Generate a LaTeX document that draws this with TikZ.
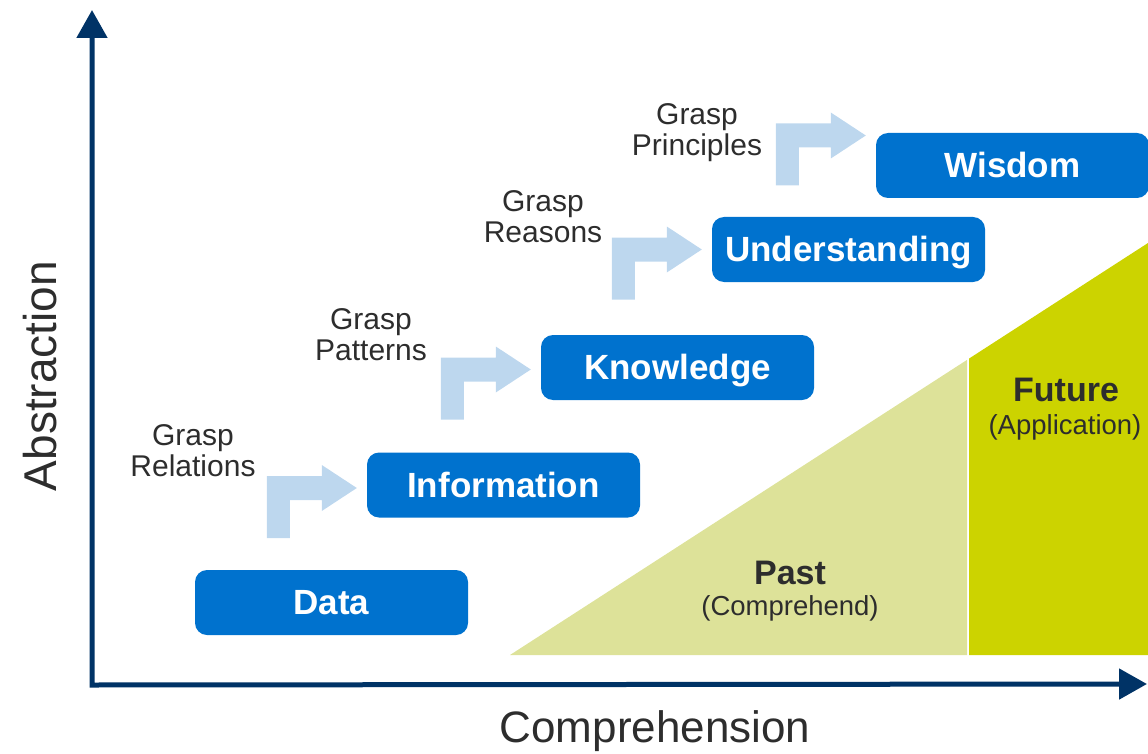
\documentclass[tikz,border=0pt]{standalone}
\usepackage{fontspec}
\setmainfont{Liberation Sans}
\usetikzlibrary{arrows.meta,calc}
\definecolor{boxblue}{RGB}{0,114,206}
\definecolor{paleblue}{RGB}{189,215,238}
\definecolor{pastgreen}{RGB}{221,226,153}
\definecolor{futgreen}{RGB}{204,211,0}
\definecolor{axisnavy}{RGB}{0,51,102}
\definecolor{ink}{RGB}{45,45,45}
\begin{document}
\begin{tikzpicture}[x=1pt, y=-1pt,
  level/.style={rectangle, rounded corners=12pt, fill=boxblue, text=white, inner sep=0pt,
    minimum width=273pt, minimum height=65pt, text height=24pt, text depth=0pt,
    font=\fontsize{35}{40}\selectfont\bfseries},
  grasp/.style={align=center, text=ink, font=\fontsize{30}{31}\selectfont},
  era/.style={text=ink, font=\fontsize{34}{38}\selectfont\bfseries},
  eranote/.style={text=ink, font=\fontsize{27.5}{30}\selectfont},
  bendarrow/.style={fill=paleblue},
  axis/.style={axisnavy, line width=5pt, line join=miter,
    {Triangle[width=30pt,length=28pt]}-{Triangle[width=30pt,length=28pt]}}]
\useasboundingbox (0,0) rectangle (1148,754);
\fill[pastgreen] (510,655) -- (967,655) -- (967,359.9) -- cycle;
\fill[futgreen] (969,655) -- (969,358.6) -- (1148,243) -- (1148,655) -- cycle;
\node[era] (past) at (790,573) {Past};
\node[eranote] (pastnote) at (790,608) {(Comprehend)};
\node[era] (future) at (1066,390) {Future};
\node[eranote] (futurenote) at (1065,427) {(Application)};
\node[level] (d0) at (331.5,602.5) {Data};
\node[level] (d1) at (503.5,485) {Information};
\node[level] (d2) at (677.5,367.5) {Knowledge};
\node[level] (d3) at (848.5,249.5) {Understanding};
\node[level] (d4) at (1012.5,165.5) {Wisdom};
\node[grasp] (g1) at (193,451) {Grasp\\Relations};
\node[grasp] (g2) at (371,335) {Grasp\\Patterns};
\node[grasp] (g3) at (543,217) {Grasp\\Reasons};
\node[grasp] (g4) at (697,133) {Grasp\\Principles};
\foreach \k/\dy in {1/3,2/2,3/0,4/-30}{
  \coordinate (tip\k) at ($(d\k.west)+(-10,\dy)$);
  \fill[bendarrow] ($(tip\k)+(-90,50)$) -- ++(0,-62) -- ++(55,0) -- ++(0,-11) -- (tip\k)
    -- ++(-35,23) -- ++(0,-11) -- ++(-32,0) -- ++(0,38) -- cycle;
}
\coordinate (origin) at (92,685);
\coordinate (ytip) at (92,10);
\coordinate (xtip) at (1147,684);
\draw[axis] (ytip) -- (origin) -- (xtip);
\node[rotate=90, anchor=base, text=ink, font=\fontsize{46}{50}\selectfont] (ylab) at (56,376) {Abstraction};
\node[anchor=base, text=ink, font=\fontsize{44}{48}\selectfont] (xlab) at (655,742) {Comprehension};
\end{tikzpicture}
\end{document}
